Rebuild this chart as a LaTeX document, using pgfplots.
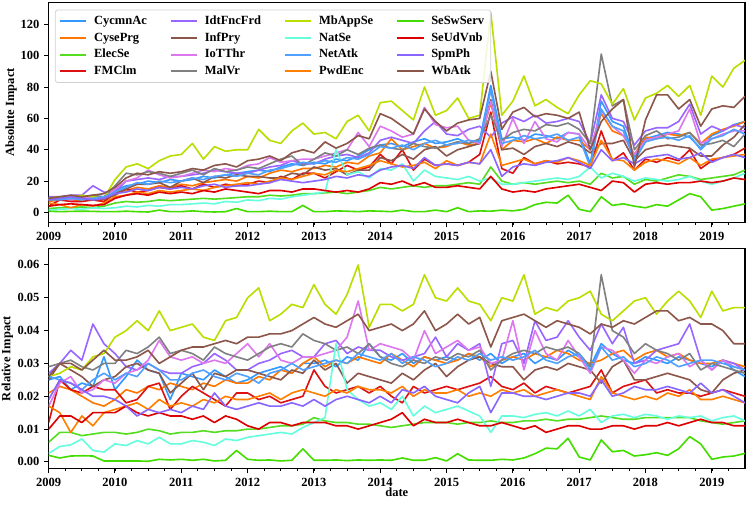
\documentclass[border=0pt]{standalone}
\usepackage{fontspec}
\setmainfont{Liberation Serif}
\usepackage{pgfplots}
\usepackage{pgfplotstable}
\pgfplotsset{compat=1.18}

\definecolor{cA}{RGB}{51,153,255}
\definecolor{cB}{RGB}{255,119,0}
\definecolor{cC}{RGB}{85,221,34}
\definecolor{cD}{RGB}{221,17,17}
\definecolor{cE}{RGB}{153,102,255}
\definecolor{cF}{RGB}{140,86,75}
\definecolor{cG}{RGB}{221,119,238}
\definecolor{cH}{RGB}{128,128,128}
\definecolor{cI}{RGB}{187,221,0}
\definecolor{cJ}{RGB}{102,255,221}
\definecolor{cK}{RGB}{80,160,255}
\definecolor{cL}{RGB}{255,128,0}
\definecolor{cM}{RGB}{68,221,0}
\definecolor{cN}{RGB}{221,0,0}
\definecolor{cO}{RGB}{136,102,255}
\definecolor{cP}{RGB}{140,86,75}

\pgfplotstableread[header=false]{
x 2009 2009.167 2009.333 2009.5 2009.667 2009.833 2010 2010.167 2010.333 2010.5 2010.667 2010.833 2011 2011.167 2011.333 2011.5 2011.667 2011.833 2012 2012.167 2012.333 2012.5 2012.667 2012.833 2013 2013.167 2013.333 2013.5 2013.667 2013.833 2014 2014.167 2014.333 2014.5 2014.667 2014.833 2015 2015.167 2015.333 2015.5 2015.667 2015.833 2016 2016.167 2016.333 2016.5 2016.667 2016.833 2017 2017.167 2017.333 2017.5 2017.667 2017.833 2018 2018.167 2018.333 2018.5 2018.667 2018.833 2019 2019.167 2019.333 2019.5
A 8 9 8.5 9 10 9 14 17 18 20 19 21 20 21 23 22 24 25 26 27 26 29 31 30 32 31 34 33 36 40 43 44 42 45 47 44 45 47 44 46 81 47 48 46 50 49 47 51 50 31 71 58 55 35 47 49 51 50 48 41 49 52 56 58
B 7 8 7.5 8 8 7 12 14 16 15 17 16 18 17 19 20 21 20 23 22 25 27 26 28 28 30 29 32 31 36 38 47 40 42 44 41 42 45 43 44 70 40 46 45 47 44 48 46 46 40 63 52 49 37 48 47 50 49 51 44 50 53 55 58
C 2.5 3 3 3.5 3 4 6 7 6.5 7 8 7.5 8 8.5 9 8.5 9 9.5 10 10 11 10.5 11 12 12 12.5 13 12 13 14 16 15 16 17 16 17 17 18 19 18 29 20 18 19 18 19 20 19 20 18 25 22 23 18 21 20 22 24 23 21 22 23 24 27
D 4 8 7 7 8 7 12 15 13 14 16 15 17 15 18 16 18 17 18 20 19 23 21 25 25 22 26 30 27 29 37 31 40 27 34 30 31 30 32 37 64 28 25 35 31 33 31 32 31 29 52 33 38 27 34 32 35 33 40 28 33 35 37 41
E 10 10 11 11 17 13 13 20 21 22 21 23 23 24 25 27 26 25 25 27 29 30 33 31 31 34 36 37 35 38 46 48 46 44 52 58 50 49 53 55 48 57 61 58 62 57 58 60 58 44 75 60 58 43 52 54 54 58 69 50 55 52 56 54
F 8 9.5 9 9 8 8.5 11 15 18 18 19 16 20 22 19 23 22 24 23 23 22 22 25 24 29 27 28 24 27 27 35 33 37 34 40 42 36 40 42 44 72 40 41 37 42 44 42 45 43 38 44 44 46 33 40 42 43 42 41 36 36 43 48 56
G 8 9 8 9 10 9 15 20 22 27 24 22 23 25 27 26 28 27 30 31 35 32 33 34 34 36 38 40 51 42 55 52 48 50 67 56 54 55 46 44 71 42 60 44 58 47 45 51 50 40 65 55 49 37 46 48 50 52 66 44 47 50 52 52
H 9 10 9 10 11 10 17 25 24 26 25 23 25 27 24 28 26 27 29 28 31 34 36 30 34 38 36 40 37 41 43 41 40 44 42 41 43 45 44 47 62 46 51 53 52 56 55 57 53 44 101 68 72 40 49 52 47 48 51 43 44 46 42 50
I 9 10 9.5 11 10 9 21 29 31 28 33 36 37 44 34 42 39 40 40 53 46 44 52 57 50 51 47 58 62 52 70 71 65 59 80 62 65 73 60 62 127.5 62 71 87 68 72 67 63 75 84 82 69 79 59 73 76 81 74 81 62 87 80 92 97
J 1.5 2 2.5 2 3 2.5 3 4 3.5 4.5 4 5 5 5.5 6 5.5 7 6.5 8 7.5 9 8.5 10 11 12 13 40 24 26 22 28 27 31 20 27 23 22 21 23 20 22 18 18 19 20 21 22 21 23 29 22 25 23 20 22 21 20 21 23 20 18 20 22 25
K 8 8 9 8 9 10 13 16 19 18 20 19 20 22 21 23 24 23 25 24 27 28 30 32 31 33 32 35 34 37 42 41 43 40 44 46 43 44 46 45 78 44 46 49 47 48 50 46 48 29 66 55 52 33 45 47 48 46 49 40 47 49 53 50
L 6 5 3 5 4 6 10 11 13 12 14 13 14 15 14 16 17 18 19 18 20 22 21 23 25 24 27 26 28 30 33 31 29 30 32 28 33 30 32 31 50 30 32 34 31 33 32 35 33 30 46 34 33 27 32 34 33 31 35 30 34 35 36 37
M 0.8 0.5 0.7 0.8 0.7 0.5 0.5 0.8 0.5 0.3 1.5 0.5 0.5 1 0.5 0.3 0.5 2.5 0.5 0.5 0.8 0.5 0.5 4.5 0.5 0.5 1 0.8 0.5 1 0.8 0.5 1.5 0.5 0.5 1.5 0.5 3 0.5 1 0.8 1.5 1 2 5 6.5 6 11 2 0.5 10 4.5 5.5 4 3 5 4 8 12 10 1.5 2.5 4 5.5
N 4 5 5.5 5 4.5 5 9 11 12 11 13 12 13 12 14 13 15 14 13 12 14 14 13 15 15 14 13 14 13 15 19 18 20 17 19 16 16 17 16 15 23 15 13 14 13 15 16 17 18 16 14 20 19 13 18 19 18 19 19 20 19 20 22 21
O 8 9 10 9 8 9 12 13 15 14 16 15 16 15 17 18 16 17 17 18 19 21 20 19 20 21 23 22 24 23 27 29 30 28 35 30 31 30 32 31 40 23 29 31 30 32 33 35 32 28 40 33 35 31 35 36 37 34 35 38 32 35 37 35
P 9 10 11 10 11 12 16 22 25 24 26 25 26 28 27 30 31 29 33 34 36 33 38 40 38 45 41 44 49 47 63 60 55 50 66 58 52 57 59 60 90 53 64 67 61 63 62 60 64 40 58 66 72 29 59 75 75 66 72 55 66 68 67 74
}\absraw
\pgfplotstabletranspose[colnames from=0]\absT\absraw

\pgfplotstableread[header=false]{
x 2009 2009.167 2009.333 2009.5 2009.667 2009.833 2010 2010.167 2010.333 2010.5 2010.667 2010.833 2011 2011.167 2011.333 2011.5 2011.667 2011.833 2012 2012.167 2012.333 2012.5 2012.667 2012.833 2013 2013.167 2013.333 2013.5 2013.667 2013.833 2014 2014.167 2014.333 2014.5 2014.667 2014.833 2015 2015.167 2015.333 2015.5 2015.667 2015.833 2016 2016.167 2016.333 2016.5 2016.667 2016.833 2017 2017.167 2017.333 2017.5 2017.667 2017.833 2018 2018.167 2018.333 2018.5 2018.667 2018.833 2019 2019.167 2019.333 2019.5
A 0.025 0.026 0.022 0.024 0.023 0.032 0.022 0.026 0.031 0.028 0.027 0.019 0.027 0.026 0.025 0.028 0.026 0.024 0.025 0.027 0.028 0.029 0.027 0.030 0.030 0.031 0.029 0.032 0.031 0.036 0.032 0.031 0.033 0.030 0.032 0.031 0.032 0.031 0.033 0.031 0.033 0.030 0.032 0.033 0.030 0.032 0.031 0.034 0.032 0.029 0.036 0.033 0.031 0.030 0.032 0.031 0.030 0.032 0.031 0.030 0.029 0.031 0.028 0.026
B 0.021 0.023 0.022 0.020 0.018 0.017 0.019 0.022 0.021 0.023 0.022 0.024 0.023 0.022 0.024 0.023 0.025 0.024 0.024 0.026 0.025 0.028 0.027 0.030 0.032 0.029 0.031 0.030 0.032 0.031 0.030 0.033 0.031 0.029 0.032 0.031 0.030 0.031 0.033 0.032 0.029 0.031 0.032 0.031 0.033 0.032 0.034 0.033 0.031 0.030 0.031 0.033 0.034 0.031 0.033 0.034 0.032 0.033 0.031 0.030 0.030 0.031 0.030 0.029
C 0.0060 0.0090 0.0090 0.0080 0.0085 0.0090 0.0090 0.0085 0.0090 0.0100 0.0095 0.0085 0.0090 0.0090 0.0095 0.0090 0.0095 0.0095 0.0100 0.0100 0.0105 0.0110 0.0110 0.0115 0.0135 0.0125 0.0120 0.0120 0.0115 0.0115 0.0110 0.0105 0.0110 0.0115 0.0120 0.0120 0.0120 0.0115 0.0120 0.0120 0.0125 0.0120 0.0120 0.0125 0.0125 0.0130 0.0125 0.0130 0.0130 0.0135 0.0140 0.0135 0.0130 0.0130 0.0135 0.0135 0.0135 0.0135 0.0135 0.0125 0.0120 0.0115 0.0120 0.0125
D 0.012 0.025 0.022 0.021 0.023 0.022 0.022 0.018 0.019 0.023 0.024 0.016 0.020 0.023 0.021 0.019 0.017 0.021 0.021 0.019 0.020 0.018 0.019 0.020 0.028 0.023 0.021 0.022 0.023 0.021 0.023 0.020 0.018 0.023 0.021 0.022 0.023 0.022 0.023 0.024 0.026 0.023 0.022 0.024 0.021 0.023 0.022 0.021 0.022 0.023 0.028 0.021 0.023 0.024 0.025 0.021 0.022 0.021 0.021 0.020 0.021 0.022 0.021 0.020
E 0.027 0.030 0.034 0.031 0.042 0.036 0.033 0.029 0.028 0.030 0.028 0.027 0.027 0.029 0.030 0.033 0.031 0.028 0.028 0.030 0.031 0.033 0.034 0.032 0.032 0.036 0.037 0.033 0.035 0.034 0.034 0.032 0.031 0.032 0.033 0.038 0.032 0.036 0.034 0.036 0.023 0.036 0.037 0.030 0.043 0.037 0.038 0.043 0.038 0.034 0.042 0.036 0.041 0.030 0.031 0.034 0.035 0.036 0.042 0.031 0.028 0.031 0.030 0.028
F 0.025 0.030 0.028 0.026 0.023 0.025 0.026 0.029 0.030 0.028 0.027 0.021 0.024 0.027 0.022 0.027 0.026 0.028 0.028 0.027 0.026 0.025 0.028 0.027 0.031 0.028 0.030 0.024 0.027 0.026 0.025 0.024 0.027 0.025 0.028 0.030 0.026 0.029 0.031 0.032 0.030 0.029 0.029 0.025 0.028 0.029 0.028 0.030 0.029 0.028 0.024 0.029 0.031 0.025 0.025 0.026 0.027 0.026 0.025 0.022 0.021 0.025 0.027 0.028
G 0.017 0.024 0.026 0.021 0.022 0.025 0.024 0.027 0.028 0.031 0.037 0.032 0.031 0.032 0.030 0.031 0.030 0.033 0.036 0.032 0.036 0.031 0.030 0.032 0.032 0.033 0.034 0.038 0.049 0.034 0.036 0.035 0.034 0.031 0.040 0.033 0.035 0.037 0.034 0.035 0.030 0.031 0.043 0.028 0.040 0.033 0.031 0.037 0.032 0.027 0.035 0.034 0.031 0.027 0.031 0.030 0.032 0.033 0.029 0.031 0.028 0.031 0.029 0.028
H 0.029 0.030 0.031 0.029 0.028 0.030 0.030 0.034 0.033 0.035 0.038 0.033 0.034 0.033 0.031 0.035 0.033 0.032 0.031 0.033 0.035 0.036 0.035 0.039 0.037 0.036 0.034 0.035 0.033 0.036 0.032 0.030 0.029 0.031 0.030 0.032 0.031 0.033 0.032 0.034 0.028 0.031 0.033 0.034 0.033 0.035 0.034 0.035 0.033 0.029 0.057 0.040 0.038 0.033 0.036 0.034 0.033 0.031 0.033 0.028 0.030 0.029 0.028 0.027
I 0.026 0.027 0.029 0.028 0.032 0.033 0.038 0.040 0.043 0.040 0.046 0.040 0.041 0.042 0.038 0.037 0.043 0.044 0.050 0.053 0.043 0.045 0.048 0.047 0.054 0.048 0.045 0.051 0.060 0.041 0.048 0.048 0.046 0.048 0.057 0.050 0.049 0.053 0.049 0.048 0.043 0.050 0.049 0.057 0.045 0.047 0.046 0.049 0.050 0.052 0.045 0.043 0.046 0.049 0.050 0.045 0.049 0.052 0.049 0.044 0.052 0.046 0.047 0.047
J 0.0026 0.0047 0.0052 0.0070 0.0035 0.0030 0.0055 0.0050 0.0065 0.0055 0.0075 0.0055 0.0055 0.0065 0.0060 0.0050 0.0070 0.0065 0.0075 0.0080 0.0085 0.0090 0.0085 0.0105 0.0120 0.0135 0.0360 0.0220 0.0190 0.0170 0.0180 0.0160 0.0200 0.0140 0.0170 0.0150 0.0160 0.0170 0.0155 0.0140 0.0090 0.0140 0.0140 0.0135 0.0145 0.0150 0.0140 0.0155 0.0140 0.0160 0.0120 0.0140 0.0145 0.0135 0.0145 0.0140 0.0130 0.0140 0.0135 0.0140 0.0125 0.0135 0.0140 0.0125
K 0.026 0.025 0.024 0.022 0.025 0.027 0.025 0.027 0.026 0.030 0.028 0.025 0.025 0.027 0.028 0.026 0.025 0.027 0.026 0.024 0.027 0.028 0.030 0.028 0.029 0.030 0.031 0.030 0.033 0.032 0.031 0.033 0.030 0.032 0.031 0.029 0.030 0.032 0.031 0.033 0.031 0.032 0.031 0.032 0.034 0.031 0.030 0.032 0.033 0.028 0.035 0.031 0.032 0.029 0.030 0.032 0.031 0.029 0.030 0.031 0.031 0.030 0.029 0.028
L 0.017 0.015 0.009 0.014 0.011 0.015 0.016 0.017 0.018 0.016 0.019 0.017 0.018 0.017 0.019 0.018 0.020 0.019 0.019 0.020 0.021 0.019 0.021 0.022 0.021 0.020 0.022 0.021 0.023 0.022 0.022 0.021 0.023 0.020 0.022 0.021 0.021 0.022 0.020 0.021 0.020 0.022 0.021 0.022 0.020 0.021 0.022 0.021 0.020 0.019 0.026 0.021 0.020 0.019 0.020 0.019 0.021 0.020 0.022 0.019 0.019 0.020 0.019 0.018
M 0.0020 0.0012 0.0018 0.0019 0.0018 0.0003 0.0003 0.0003 0.0003 0.0002 0.0008 0.0006 0.0008 0.0005 0.0008 0.0003 0.0005 0.0035 0.0008 0.0005 0.0006 0.0003 0.0005 0.0040 0.0005 0.0005 0.0006 0.0004 0.0006 0.0005 0.0006 0.0005 0.0012 0.0005 0.0005 0.0013 0.0003 0.0025 0.0006 0.0005 0.0005 0.0008 0.0006 0.0012 0.0025 0.0042 0.0040 0.0072 0.0015 0.0006 0.0067 0.0031 0.0035 0.0018 0.0022 0.0028 0.0020 0.0040 0.0077 0.0055 0.0008 0.0015 0.0018 0.0026
N 0.010 0.014 0.014 0.012 0.015 0.015 0.015 0.017 0.015 0.014 0.015 0.014 0.014 0.013 0.014 0.012 0.014 0.013 0.011 0.010 0.012 0.012 0.011 0.012 0.012 0.012 0.011 0.011 0.010 0.011 0.012 0.013 0.015 0.011 0.013 0.012 0.012 0.013 0.012 0.011 0.011 0.012 0.011 0.010 0.011 0.009 0.010 0.011 0.011 0.010 0.010 0.011 0.011 0.010 0.011 0.011 0.012 0.011 0.012 0.013 0.012 0.012 0.011 0.011
O 0.019 0.025 0.024 0.022 0.020 0.020 0.019 0.017 0.014 0.016 0.015 0.016 0.015 0.017 0.016 0.021 0.017 0.016 0.017 0.018 0.017 0.017 0.018 0.017 0.019 0.017 0.019 0.020 0.019 0.018 0.020 0.018 0.022 0.021 0.023 0.020 0.019 0.018 0.021 0.023 0.015 0.021 0.021 0.020 0.020 0.019 0.020 0.021 0.021 0.020 0.025 0.020 0.021 0.023 0.022 0.022 0.023 0.022 0.021 0.024 0.021 0.022 0.020 0.018
P 0.026 0.030 0.030 0.028 0.031 0.034 0.031 0.031 0.032 0.034 0.030 0.032 0.034 0.035 0.035 0.036 0.037 0.036 0.038 0.038 0.039 0.039 0.040 0.042 0.044 0.042 0.041 0.043 0.045 0.040 0.041 0.042 0.040 0.042 0.046 0.040 0.042 0.045 0.042 0.044 0.035 0.043 0.044 0.045 0.043 0.041 0.043 0.042 0.041 0.039 0.042 0.041 0.043 0.042 0.044 0.046 0.046 0.043 0.044 0.042 0.042 0.040 0.036 0.036
}\relraw
\pgfplotstabletranspose[colnames from=0]\relT\relraw

\pgfplotsset{
  panel/.style={
    scale only axis, width=557pt, height=176pt,
    xmin=2009, xmax=2019.5,
    xtick={2009,2010,...,2019},
    minor xtick={2009,2009.25,...,2019.5},
    tick align=outside, tick pos=left,
    major tick length=3.9pt, minor tick length=2.2pt,
    every tick/.style={black, line width=0.8pt},
    axis line style={line width=0.9pt},
    /pgf/number format/assume math mode=true,
    ticklabel style={font=\bfseries},
    x tick label style={/pgf/number format/1000 sep={}},
    label style={font=\bfseries},
    every axis plot/.append style={line width=1.3pt, line join=round, mark=none},
  }
}

\begin{document}
\begin{tikzpicture}[font=\bfseries]
\path[use as bounding box] (0,0) rectangle (597.6pt,404pt);
\begin{axis}[panel,
  at={(38.96pt,226pt)}, anchor=south west,
  ymin=-6.4, ymax=133.9,
  ytick={0,20,40,60,80,100,120},
  ylabel={Absolute Impact},
  every axis y label/.style={at={([xshift=-30pt]axis description cs:0,0.5)}, rotate=90, anchor=center},
  legend columns=4, transpose legend, legend cell align=left,
  legend image code/.code={\draw[#1, line width=1.6pt] (0pt,0pt) -- (21pt,0pt);},
  legend style={at={(0.009,0.968)}, anchor=north west,
    draw=black!18, line width=0.6pt, rounded corners=2pt,
    fill=white, fill opacity=0.85, text opacity=1, draw opacity=1,
    font=\bfseries, inner xsep=3pt, inner ysep=2.5pt,
    nodes={inner sep=2.4pt},
    /tikz/every odd column/.append style={column sep=3pt},
    /tikz/every even column/.append style={column sep=16pt}},
]
\addplot[cA] table[x=x,y=A]{\absT}; \addlegendentry{CycmnAc}
\addplot[cB] table[x=x,y=B]{\absT}; \addlegendentry{CysePrg}
\addplot[cC] table[x=x,y=C]{\absT}; \addlegendentry{ElecSe}
\addplot[cD] table[x=x,y=D]{\absT}; \addlegendentry{FMClm}
\addplot[cE] table[x=x,y=E]{\absT}; \addlegendentry{IdtFncFrd}
\addplot[cF] table[x=x,y=F]{\absT}; \addlegendentry{InfPry}
\addplot[cG] table[x=x,y=G]{\absT}; \addlegendentry{IoTThr}
\addplot[cH] table[x=x,y=H]{\absT}; \addlegendentry{MalVr}
\addplot[cI] table[x=x,y=I]{\absT}; \addlegendentry{MbAppSe}
\addplot[cJ] table[x=x,y=J]{\absT}; \addlegendentry{NatSe}
\addplot[cK] table[x=x,y=K]{\absT}; \addlegendentry{NetAtk}
\addplot[cL] table[x=x,y=L]{\absT}; \addlegendentry{PwdEnc}
\addplot[cM] table[x=x,y=M]{\absT}; \addlegendentry{SeSwServ}
\addplot[cN] table[x=x,y=N]{\absT}; \addlegendentry{SeUdVnb}
\addplot[cO] table[x=x,y=O]{\absT}; \addlegendentry{SpmPh}
\addplot[cP] table[x=x,y=P]{\absT}; \addlegendentry{WbAtk}
\end{axis}
\begin{axis}[panel,
  at={(38.96pt,29.2pt)}, anchor=south west,
  ymin=-0.002, ymax=0.065,
  ytick={0,0.01,0.02,0.03,0.04,0.05,0.06},
  scaled y ticks=false,
  y tick label style={/pgf/number format/.cd, fixed, fixed zerofill, precision=2},
  ylabel={Relative Impact},
  every axis y label/.style={at={([xshift=-33pt]axis description cs:0,0.5)}, rotate=90, anchor=center},
  xlabel={date},
  every axis x label/.style={at={(axis description cs:0.5,0)}, anchor=center, yshift=-19pt},
]
\addplot[cA] table[x=x,y=A]{\relT};
\addplot[cB] table[x=x,y=B]{\relT};
\addplot[cC] table[x=x,y=C]{\relT};
\addplot[cD] table[x=x,y=D]{\relT};
\addplot[cE] table[x=x,y=E]{\relT};
\addplot[cF] table[x=x,y=F]{\relT};
\addplot[cG] table[x=x,y=G]{\relT};
\addplot[cH] table[x=x,y=H]{\relT};
\addplot[cI] table[x=x,y=I]{\relT};
\addplot[cJ] table[x=x,y=J]{\relT};
\addplot[cK] table[x=x,y=K]{\relT};
\addplot[cL] table[x=x,y=L]{\relT};
\addplot[cM] table[x=x,y=M]{\relT};
\addplot[cN] table[x=x,y=N]{\relT};
\addplot[cO] table[x=x,y=O]{\relT};
\addplot[cP] table[x=x,y=P]{\relT};
\end{axis}
\end{tikzpicture}
\end{document}
